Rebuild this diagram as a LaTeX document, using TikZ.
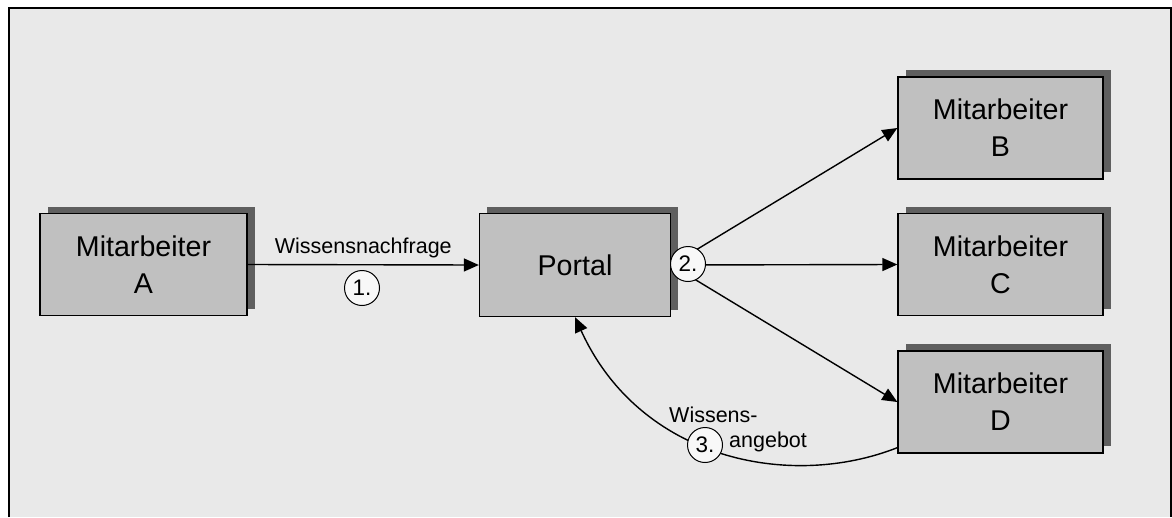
\documentclass[tikz,border=0pt]{standalone}
\usepackage{fontspec}
\setmainfont{Liberation Sans}
\usetikzlibrary{arrows.meta,shadows}
\definecolor{panelbg}{HTML}{E9E9E9}
\definecolor{boxfill}{HTML}{C0C0C0}
\definecolor{boxshade}{HTML}{5F5F5F}
\definecolor{numfill}{HTML}{F8F8F8}
\tikzset{
  person/.style={rectangle, draw=black, line width=1.3pt, fill=boxfill,
    minimum width=207pt, minimum height=102pt, align=center, inner sep=0pt,
    font=\fontsize{28.6}{37}\selectfont,
    general shadow={fill=boxshade, draw=none, shadow xshift=7.5pt, shadow yshift=7pt}},
  arr/.style={-{Triangle[length=15pt,width=13pt]}, line width=1.4pt},
  num/.style={circle, draw=black, line width=1pt, fill=numfill, minimum size=35pt,
    inner sep=0pt, font=\fontsize{22.5}{26}\selectfont},
  lbl/.style={inner sep=0pt, font=\fontsize{21.5}{26}\selectfont}
}
\begin{document}
\begin{tikzpicture}[x=1pt, y=-1pt]
\useasboundingbox (0,0) rectangle (1172,517);
% panel with its frame (open at the bottom)
\fill[panelbg] (9,8) rectangle (1171,517);
\draw[line width=2pt] (9,517) -- (9,8) -- (1171,8) -- (1171,517);

% participants
\node[person] (A) at (143.5,264.5) {Mitarbeiter\\A};
\node[person, minimum width=191pt, minimum height=103pt] (P) at (575,265) {Portal};
\node[person, minimum width=205pt] (B) at (1000.5,128) {Mitarbeiter\\B};
\node[person, minimum width=205pt] (C) at (1000.5,264.5) {Mitarbeiter\\C};
\node[person, minimum width=205pt] (D) at (1000.5,402) {Mitarbeiter\\D};

% step 1: request
\draw[arr] (A.east) -- node[lbl, midway, anchor=base, yshift=11pt] {Wissensnachfrage} (P.west);
\node[num] (n1) at (362,288) {1.};

% step 2: distribution
\draw[arr] (P.east) -- (B.west);
\draw[arr] (P.east) -- (C.west);
\draw[arr] (P.east) -- (D.west);
\node[num] (n2) at (688,264) {2.};

% step 3: offer back to the portal
\coordinate (dout) at ([yshift=6pt]D.south west);
\draw[arr] (dout) .. controls (790,490) and (640,460) .. (P.south);
\node[num] (n3) at (705,445) {3.};
\node[lbl, anchor=base west] (w1) at (669,422) {Wissens-};
\node[lbl, anchor=base west] (w2) at (729,447) {angebot};
\end{tikzpicture}
\end{document}
